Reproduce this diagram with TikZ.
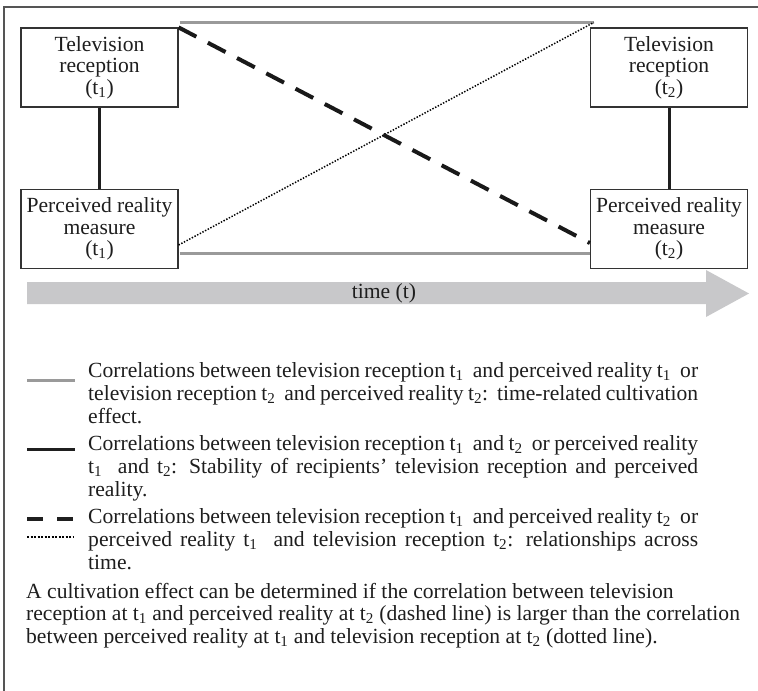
\documentclass[tikz,border=0pt]{standalone}
\usepackage{fontspec}
\setmainfont{Liberation Serif}
\usetikzlibrary{calc}
\definecolor{linegray}{HTML}{9A9A9A}
\definecolor{arrowgray}{HTML}{C8C8CA}
\definecolor{framegray}{HTML}{555555}
\definecolor{boxline}{HTML}{333333}
\definecolor{textcol}{HTML}{1E1E1E}
\newcommand{\tsub}[1]{t\textsubscript{#1}}
\newcommand{\jline}[1]{\makebox[610pt][s]{#1}}
\begin{document}
\begin{tikzpicture}[x=1pt,y=-1pt,
  box/.style={draw=boxline,line width=1.2pt,minimum width=157pt,minimum height=79pt,inner sep=0pt,align=center,text=textcol,font=\fontsize{21.6}{21.5}\selectfont},
  stab/.style={line width=3pt,black!88},
  tcult/.style={line width=3pt,linegray},
  crossdash/.style={line width=4pt,black!90,dash pattern=on 20pt off 13pt},
  crossdot/.style={line width=1.5pt,black,dash pattern=on 1.4pt off 1.6pt},
  legtext/.style={anchor=base west,inner sep=0pt,text=textcol,font=\fontsize{21.6}{23}\selectfont}
]
\useasboundingbox (0,0) rectangle (758,691);
\fill[white] (0,0) rectangle (758,691);
\draw[framegray,line width=1.5pt] (4,691) -- (4,7) -- (758,7);

% boxes
\node[box] (tv1) at (99.5,67.5) {Television\\reception\\(\tsub{1})};
\node[box] (pr1) at (99.5,229) {Perceived reality\\measure\\(\tsub{1})};
\node[box] (tv2) at (669,67.5) {Television\\reception\\(\tsub{2})};
\node[box] (pr2) at (669,229) {Perceived reality\\measure\\(\tsub{2})};

% helper coordinates
\coordinate (gtA) at ($(tv1.north east)+(1,-5)$);
\coordinate (gtB) at ($(tv2.north west)+(4,-5)$);
\coordinate (gbA) at ($(pr1.east)+(1,24)$);
\coordinate (gbB) at ($(pr2.west)+(0,24)$);
\coordinate (dotA) at ($(pr1.east)+(0,16)$);
\coordinate (dashB) at ($(pr2.west)+(0,14)$);

% connectors
\draw[stab] (tv1) -- (pr1);
\draw[stab] (tv2) -- (pr2);
\draw[tcult] (gtA) -- (gtB);
\draw[tcult] (gbA) -- (gbB);
\draw[crossdot] (dotA) -- (gtB);
\draw[crossdash] (tv1.north east) -- (dashB);

% time arrow
\fill[arrowgray] (27,282) -- (706,282) -- (706,270) -- (749,293.5) -- (706,317) -- (706,304) -- (27,304) -- cycle;
\node[anchor=base,inner sep=0pt,text=textcol,font=\fontsize{21.6}{23}\selectfont] (time) at (384,298.5) {time (t)};

% legend samples
\draw[tcult] (27,380.7) -- (75,380.7);
\draw[stab] (27,449) -- (75,449);
\draw[line width=3.5pt,black!88] (27,519) -- (43,519) (57,519) -- (73,519);
\draw[line width=2pt,black,dash pattern=on 2pt off 1.5pt] (27,537) -- (73,537);

% legend text
\node[legtext] (l11) at (88,377) {\jline{Correlations between television reception \tsub{1}\ \ and perceived reality \tsub{1}\ \ or}};
\node[legtext] (l12) at (88,400) {\jline{television reception \tsub{2}\ \ and perceived reality \tsub{2}:\ \ time-related cultivation}};
\node[legtext] (l13) at (88,423) {effect.};
\node[legtext] (l21) at (88,450.5) {\jline{Correlations between television reception \tsub{1}\ \ and \tsub{2}\ \ or perceived reality}};
\node[legtext] (l22) at (88,473.5) {\jline{\tsub{1}\ \ and \tsub{2}: Stability of recipients’ television reception and perceived}};
\node[legtext] (l23) at (88,496.5) {reality.};
\node[legtext] (l31) at (88,523) {\jline{Correlations between television reception \tsub{1}\ \ and perceived reality \tsub{2}\ \ or}};
\node[legtext] (l32) at (88,546) {\jline{perceived reality \tsub{1}\ \ and television reception \tsub{2}: relationships across}};
\node[legtext] (l33) at (88,569) {time.};

% conclusion
\node[legtext] (c1) at (26,598) {A cultivation effect can be determined if the correlation between television};
\node[legtext] (c2) at (26,620.5) {reception at \tsub{1} and perceived reality at \tsub{2} (dashed line) is larger than the correlation};
\node[legtext] (c3) at (26,643) {between perceived reality at \tsub{1} and television reception at \tsub{2} (dotted line).};
\end{tikzpicture}
\end{document}
